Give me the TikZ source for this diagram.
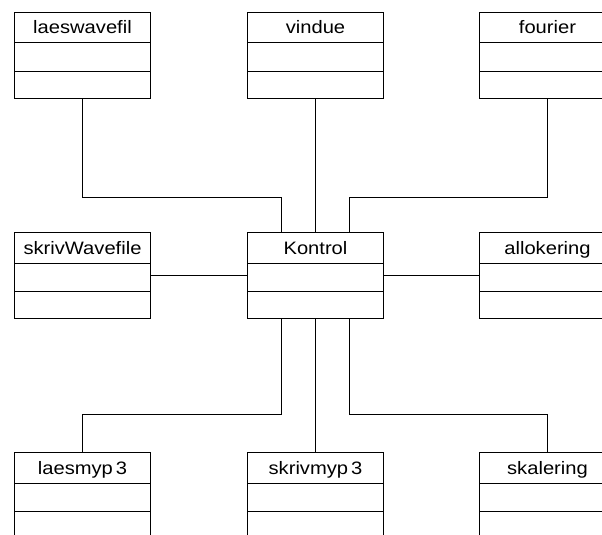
\documentclass[tikz,border=0pt]{standalone}
\usepackage{fontspec}
\setmainfont[FakeStretch=1.12]{Liberation Sans}
\usetikzlibrary{calc}
\tikzset{
  classbox/.style={draw, line width=1pt, minimum width=136pt, minimum height=86pt,
    inner sep=0pt, anchor=north west},
  classname/.style={anchor=base, inner sep=0pt, font=\fontsize{18}{20}\selectfont},
  link/.style={line width=1pt}
}
% \umlclass{name}{left x}{top y}{title}
\newcommand{\umlclass}[4]{%
  \node[classbox] (#1) at (#2,#3) {};
  \draw[line width=1pt] ($(#1.north west)+(0,31)$) -- ($(#1.north east)+(0,31)$);
  \draw[line width=1pt] ($(#1.north west)+(0,59)$) -- ($(#1.north east)+(0,59)$);
  \node[classname] (#1-title) at ($(#1.north)+(0,22)$) {#4};
}
\begin{document}
\begin{tikzpicture}[x=1pt, y=-1pt]
  \useasboundingbox (0,0) rectangle (602,535);
  \clip (0,0) rectangle (602,535);

  \umlclass{laeswavefil}{14}{12}{laeswavefil}
  \umlclass{vindue}{247}{12}{vindue}
  \umlclass{fourier}{479}{12}{fourier}
  \umlclass{skrivWavefile}{14}{232}{skrivWavefile}
  \umlclass{kontrol}{247}{232}{Kontrol}
  \umlclass{allokering}{479}{232}{allokering}
  \umlclass{laesmyp}{14}{452}{laesmyp\kern3pt 3}
  \umlclass{skrivmyp}{247}{452}{skrivmyp\kern3pt 3}
  \umlclass{skalering}{479}{452}{skalering}

  % attachment points on the central class
  \coordinate (kn1) at ($(kontrol.north west)!0.25!(kontrol.north east)$);
  \coordinate (kn3) at ($(kontrol.north west)!0.75!(kontrol.north east)$);
  \coordinate (ks1) at ($(kontrol.south west)!0.25!(kontrol.south east)$);
  \coordinate (ks3) at ($(kontrol.south west)!0.75!(kontrol.south east)$);
  \coordinate (upper) at (0,197);
  \coordinate (lower) at (0,414);

  % upper row
  \draw[link] (laeswavefil.south) -- (laeswavefil.south |- upper) -| (kn1);
  \draw[link] (vindue.south) -- (kontrol.north);
  \draw[link] (fourier.south) -- (fourier.south |- upper) -| (kn3);

  % middle row
  \draw[link] (skrivWavefile.east) -- (kontrol.west);
  \draw[link] (kontrol.east) -- (allokering.west);

  % lower row
  \draw[link] (ks1) |- (laesmyp.north |- lower) -- (laesmyp.north);
  \draw[link] (kontrol.south) -- (skrivmyp.north);
  \draw[link] (ks3) |- (skalering.north |- lower) -- (skalering.north);
\end{tikzpicture}
\end{document}
